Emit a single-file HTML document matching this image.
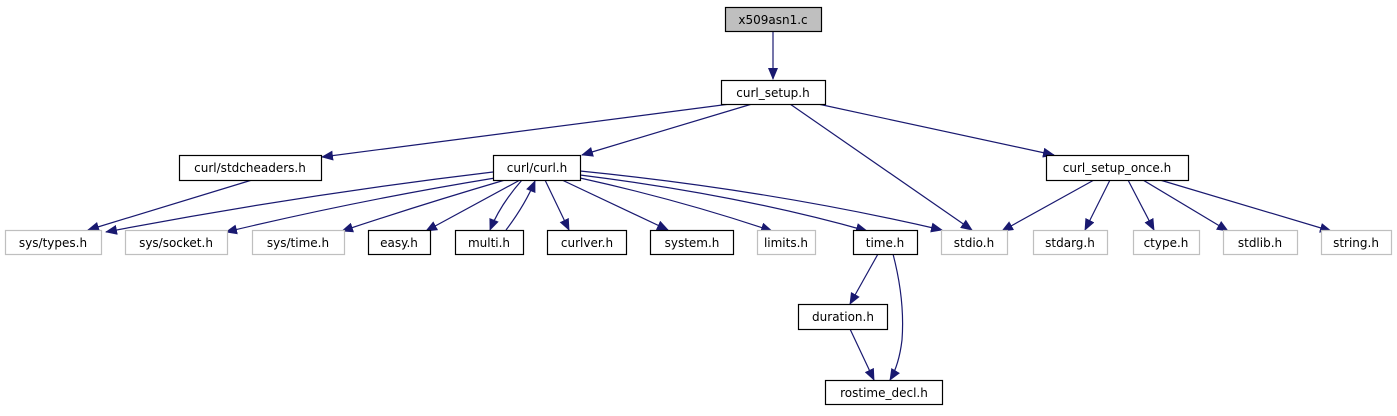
<!DOCTYPE html>
<html><head><meta charset="utf-8"><style>
html,body{margin:0;padding:0;background:#fff;}
svg text{font-family:"DejaVu Sans","Liberation Sans",sans-serif;font-size:12px;text-anchor:middle;}
</style></head><body>
<svg width="1397" height="411" viewBox="0 0 1397 411" xmlns="http://www.w3.org/2000/svg">
<defs><marker id="a" markerWidth="12" markerHeight="10" refX="11" refY="5" orient="auto" markerUnits="userSpaceOnUse"><polygon points="0,0 12,5 0,10" fill="#191970"/></marker></defs>
<g fill="none" stroke="#191970" stroke-width="1.2" marker-end="url(#a)">
<path d="M773,31 L773,79"/>
<path d="M730,104 L322,157"/>
<path d="M752,104 L582,155"/>
<path d="M790,104 L972,230"/>
<path d="M818,104 L1054,155"/>
<path d="M252,180 L88,230"/>
<path d="M493,172 Q300,195 106,232"/>
<path d="M495,178 Q360,200 226,232"/>
<path d="M505,180 Q420,205 342,231"/>
<path d="M520,180 L426,231"/>
<path d="M522,180 Q500,205 490,230"/>
<path d="M506,230 Q525,205 535,181"/>
<path d="M545,180 L569,230"/>
<path d="M562,180 L668,230"/>
<path d="M580,178 Q680,200 772,231"/>
<path d="M580,175 Q740,195 867,231"/>
<path d="M580,171 Q770,190 942,230"/>
<path d="M1094,180 L1002,231"/>
<path d="M1110,180 L1085,230"/>
<path d="M1128,180 L1154,230"/>
<path d="M1143,180 L1228,231"/>
<path d="M1160,180 L1331,231"/>
<path d="M878,254 L850,304"/>
<path d="M893,254 Q905,300 902,340 Q899,365 890,380"/>
<path d="M850,329 L874,380"/>
</g>
<g stroke-width="1.2">
<rect x="725.5" y="7.5" width="96" height="24" fill="#bfbfbf" stroke="#000"/>
<rect x="721.5" y="80.5" width="104" height="24" fill="#fff" stroke="#000"/>
<rect x="179.5" y="155.5" width="142" height="25" fill="#fff" stroke="#000"/>
<rect x="493.5" y="155.5" width="87" height="25" fill="#fff" stroke="#000"/>
<rect x="1046.5" y="155.5" width="142" height="25" fill="#fff" stroke="#000"/>
<rect x="5.5" y="230.5" width="96" height="24" fill="#fff" stroke="#bfbfbf"/>
<rect x="125.5" y="230.5" width="102" height="24" fill="#fff" stroke="#bfbfbf"/>
<rect x="252.5" y="230.5" width="92" height="24" fill="#fff" stroke="#bfbfbf"/>
<rect x="368.5" y="230.5" width="62" height="24" fill="#fff" stroke="#000"/>
<rect x="455.5" y="230.5" width="68" height="24" fill="#fff" stroke="#000"/>
<rect x="547.5" y="230.5" width="79" height="24" fill="#fff" stroke="#000"/>
<rect x="650.5" y="230.5" width="83" height="24" fill="#fff" stroke="#000"/>
<rect x="757.5" y="230.5" width="58" height="24" fill="#fff" stroke="#bfbfbf"/>
<rect x="853.5" y="230.5" width="64" height="24" fill="#fff" stroke="#000"/>
<rect x="941.5" y="230.5" width="66" height="24" fill="#fff" stroke="#bfbfbf"/>
<rect x="1033.5" y="230.5" width="74" height="24" fill="#fff" stroke="#bfbfbf"/>
<rect x="1133.5" y="230.5" width="66" height="24" fill="#fff" stroke="#bfbfbf"/>
<rect x="1223.5" y="230.5" width="74" height="24" fill="#fff" stroke="#bfbfbf"/>
<rect x="1321.5" y="230.5" width="70" height="24" fill="#fff" stroke="#bfbfbf"/>
<rect x="798.5" y="304.5" width="89" height="25" fill="#fff" stroke="#000"/>
<rect x="825.5" y="380.5" width="117" height="24" fill="#fff" stroke="#000"/>
</g>
<g fill="#000">
<text x="773" y="24">x509asn1.c</text>
<text x="773" y="97">curl_setup.h</text>
<text x="250" y="172">curl/stdcheaders.h</text>
<text x="537" y="172">curl/curl.h</text>
<text x="1117" y="172">curl_setup_once.h</text>
<text x="53" y="247">sys/types.h</text>
<text x="176" y="247">sys/socket.h</text>
<text x="298" y="247">sys/time.h</text>
<text x="399" y="247">easy.h</text>
<text x="489" y="247">multi.h</text>
<text x="587" y="247">curlver.h</text>
<text x="692" y="247">system.h</text>
<text x="786" y="247">limits.h</text>
<text x="885" y="247">time.h</text>
<text x="974" y="247">stdio.h</text>
<text x="1070" y="247">stdarg.h</text>
<text x="1166" y="247">ctype.h</text>
<text x="1260" y="247">stdlib.h</text>
<text x="1356" y="247">string.h</text>
<text x="843" y="321">duration.h</text>
<text x="884" y="397">rostime_decl.h</text>
</g>
</svg>
</body></html>
